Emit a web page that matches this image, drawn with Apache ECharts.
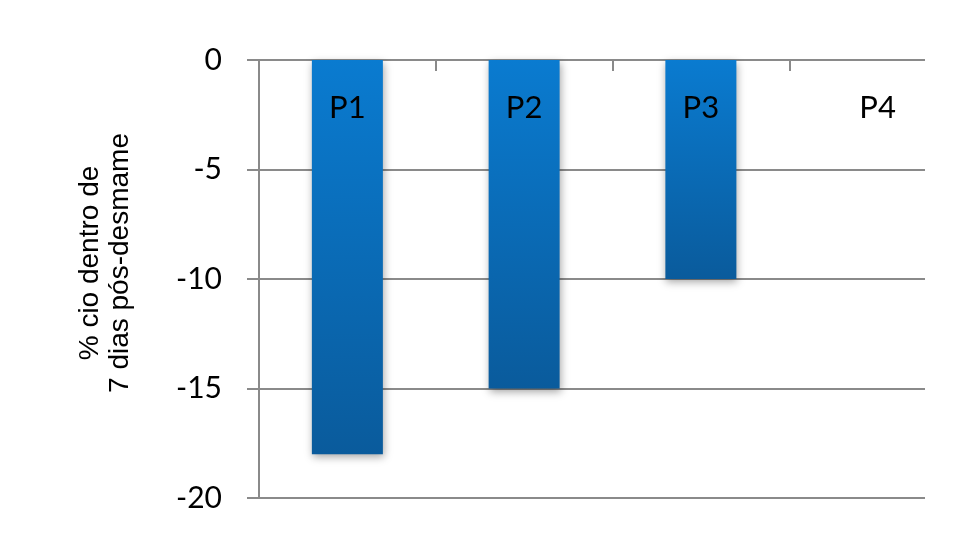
<!DOCTYPE html>
<html>
<head>
<meta charset="utf-8">
<script src="https://cdn.jsdelivr.net/npm/echarts@6/dist/echarts.min.js"></script>
<style>
  html, body { margin: 0; padding: 0; background: #ffffff; }
  #chart { width: 974px; height: 548px; }
</style>
</head>
<body>
<div id="chart"></div>
<script>
// ---- data ----
const categories = ['P1', 'P2', 'P3', 'P4'];
const values = [-18, -15, -10, 0];
const yMin = -20;
const yMax = 0;
const yInterval = 5;
const yAxisTitle = '% cio dentro de\n7 dias pós-desmame';

const gray = '#8a8a8a';
const chart = echarts.init(document.getElementById('chart'), null, { renderer: 'canvas' });

const option = {
  backgroundColor: '#ffffff',
  animation: false,
  grid: [
    { left: 259, right: 49, top: 60, bottom: 50 },
    { left: 259, right: 8, top: 60, bottom: 50 }
  ],
  graphic: [
    { type: 'rect', right: 0, top: 55, shape: { width: 14, height: 22 }, style: { fill: '#ffffff' }, z: 100 }
  ],
  xAxis: [
    {
      gridIndex: 0, type: 'category', data: categories, show: false
    },
    {
      gridIndex: 1, type: 'category', data: categories, position: 'top', z: 10,
      axisLine: { show: false },
      axisTick: { show: true, inside: true, length: 11, lineStyle: { color: gray, width: 2 } },
      axisLabel: {
        inside: true, margin: 32,
        fontFamily: 'Lato', fontSize: 31, color: '#000000'
      },
      splitLine: { show: false }
    }
  ],
  yAxis: [
    {
      gridIndex: 0, type: 'value', min: yMin, max: yMax, interval: yInterval,
      axisLine: { show: true, lineStyle: { color: gray, width: 2 } },
      axisTick: { show: true, inside: false, length: 12, lineStyle: { color: gray, width: 2 } },
      axisLabel: { margin: 37, fontFamily: 'Lato', fontSize: 30, color: '#000000' },
      splitLine: { show: true, lineStyle: { color: gray, width: 2 } },
      name: yAxisTitle,
      nameLocation: 'middle',
      nameRotate: 90,
      nameGap: 124,
      nameTextStyle: {
        fontFamily: "'Liberation Sans', Arial, sans-serif", fontSize: 28, lineHeight: 30,
        color: '#000000', align: 'center', padding: [0, 0, 0, 32]
      }
    },
    {
      gridIndex: 1, type: 'value', min: yMin, max: yMax, interval: yInterval, show: false,
      splitLine: { show: false }
    }
  ],
  series: [
    {
      type: 'bar',
      xAxisIndex: 1,
      yAxisIndex: 1,
      data: values,
      barWidth: 71,
      itemStyle: {
        color: new echarts.graphic.LinearGradient(0, 0, 0, 1, [
          { offset: 0, color: '#0a7bd0' },
          { offset: 1, color: '#0a5b9c' }
        ]),
        shadowColor: 'rgba(0,0,0,0.35)',
        shadowBlur: 8,
        shadowOffsetX: 1,
        shadowOffsetY: 3
      },
      z: 3
    }
  ]
};
chart.setOption(option);
</script>
</body>
</html>
